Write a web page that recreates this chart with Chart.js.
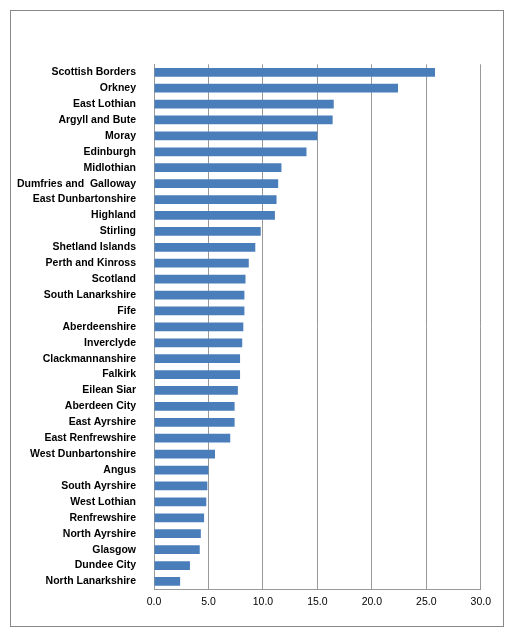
<!DOCTYPE html>
<html><head><meta charset="utf-8">
<script src="https://cdn.jsdelivr.net/npm/chart.js@4/dist/chart.umd.min.js"></script>
<style>
html,body{margin:0;padding:0;background:#fff;}
#box{position:absolute;left:10px;top:10px;width:494px;height:617px;border:1px solid #888;box-sizing:border-box;}
#wrap{position:absolute;left:11px;top:48px;width:486px;height:566px;}
</style></head><body>
<div id="box"></div>
<div id="wrap"><canvas id="c"></canvas></div>
<script>
const categories=["Scottish Borders","Orkney","East Lothian","Argyll and Bute","Moray","Edinburgh","Midlothian","Dumfries and  Galloway","East Dunbartonshire","Highland","Stirling","Shetland Islands","Perth and Kinross","Scotland","South Lanarkshire","Fife","Aberdeenshire","Inverclyde","Clackmannanshire","Falkirk","Eilean Siar","Aberdeen City","East Ayrshire","East Renfrewshire","West Dunbartonshire","Angus","South Ayrshire","West Lothian","Renfrewshire","North Ayrshire","Glasgow","Dundee City","North Lanarkshire"];
const values=[25.8,22.4,16.5,16.4,15.0,14.0,11.7,11.4,11.25,11.1,9.8,9.3,8.7,8.4,8.3,8.3,8.2,8.1,7.9,7.9,7.7,7.4,7.4,7.0,5.6,5.0,4.9,4.8,4.6,4.3,4.2,3.3,2.4];
new Chart(document.getElementById('c'),{type:'bar',
data:{labels:categories,datasets:[{data:values,backgroundColor:'#4a7ebb',borderWidth:0,categoryPercentage:1,barPercentage:0.55}]},
options:{indexAxis:'y',responsive:true,maintainAspectRatio:false,animation:false,
layout:{padding:{left:0,right:15,top:0,bottom:0}},
plugins:{legend:{display:false},tooltip:{enabled:false}},
scales:{x:{min:0,max:30,ticks:{stepSize:5,padding:6,callback:v=>v.toFixed(1),color:'#000',font:{family:'Liberation Sans',size:10.5}},grid:{color:'#999',drawTicks:false},border:{color:'#999'}},
y:{afterFit:s=>{s.width=143;},ticks:{padding:10,color:'#000',autoSkip:false,font:{family:'Liberation Sans',size:10.5,weight:'bold'}},grid:{display:false},border:{color:'#999'}}}}});
</script></body></html>
